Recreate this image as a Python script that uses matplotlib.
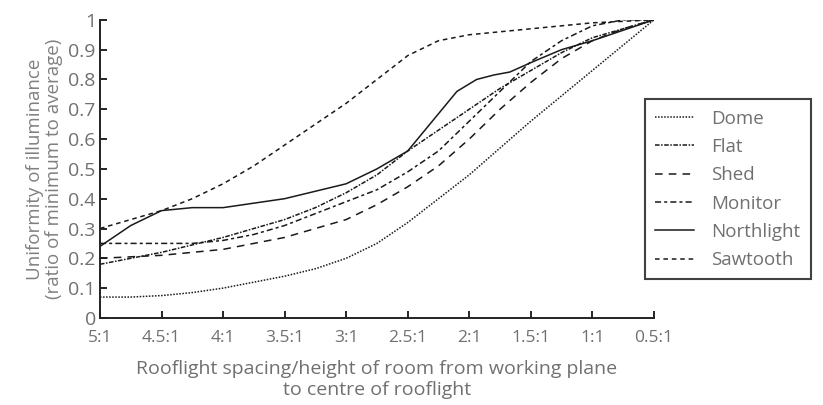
# Uniformity of illuminance vs rooflight spacing ratio
import matplotlib.pyplot as plt

plt.rcParams['font.family'] = ['Open Sans', 'DejaVu Sans']

ticks = [5, 4.5, 4, 3.5, 3, 2.5, 2, 1.5, 1, 0.5]
tick_labels = ['5:1', '4.5:1', '4:1', '3.5:1', '3:1', '2.5:1', '2:1', '1.5:1', '1:1', '0.5:1']

# values, every quarter step
ratio = [5, 4.75, 4.5, 4.25, 4, 3.75, 3.5, 3.25, 3, 2.75, 2.5, 2.25, 2, 1.75, 1.5, 1.25, 1, 0.75, 0.5]
dome = [0.07, 0.07, 0.075, 0.085, 0.10, 0.12, 0.14, 0.165, 0.20, 0.25, 0.32, 0.40, 0.48, 0.57,
        0.66, 0.745, 0.83, 0.915, 1.0]
flat = [0.18, 0.20, 0.22, 0.245, 0.27, 0.30, 0.33, 0.37, 0.42, 0.48, 0.56, 0.63, 0.70, 0.77,
        0.83, 0.89, 0.94, 0.97, 1.0]
shed = [0.20, 0.205, 0.21, 0.22, 0.23, 0.25, 0.27, 0.30, 0.33, 0.38, 0.44, 0.51, 0.60, 0.70,
        0.79, 0.87, 0.93, 0.97, 1.0]
monitor = [0.25, 0.25, 0.25, 0.25, 0.26, 0.28, 0.31, 0.35, 0.39, 0.43, 0.49, 0.56, 0.66, 0.76,
           0.86, 0.93, 0.98, 1.0, 1.0]
northlight_x = [5, 4.75, 4.5, 4.25, 4, 3.5, 3, 2.75, 2.5, 2.3, 2.1, 1.94, 1.8, 1.67, 1.48, 1.25,
                1, 0.75, 0.5]
northlight = [0.24, 0.31, 0.36, 0.37, 0.37, 0.40, 0.45, 0.50, 0.56, 0.66, 0.76, 0.80, 0.815, 0.825,
              0.86, 0.90, 0.93, 0.965, 1.0]
sawtooth = [0.30, 0.33, 0.36, 0.40, 0.45, 0.51, 0.58, 0.65, 0.72, 0.80, 0.88, 0.93, 0.95, 0.96,
            0.97, 0.98, 0.99, 0.995, 1.0]

fig = plt.figure(figsize=(8.23, 4.05), dpi=100)
ax = fig.add_axes([0.1215, 0.215, 0.673, 0.736])

lc = '#1a1a1a'
ax.plot(ratio, dome, color=lc, lw=1.1, ls=(0, (1, 1)), label='Dome')
ax.plot(ratio, flat, color=lc, lw=1.1, ls=(0, (3, 1, 1, 1)), label='Flat')
ax.plot(ratio, shed, color=lc, lw=1.1, ls=(0, (5, 4)), label='Shed')
ax.plot(ratio, monitor, color=lc, lw=1.1, ls=(0, (4, 2, 2, 2)), label='Monitor')
ax.plot(northlight_x, northlight, color=lc, lw=1.1, ls='-', label='Northlight')
ax.plot(ratio, sawtooth, color=lc, lw=1.1, ls=(0, (3, 2.5)), label='Sawtooth')

ax.set_xlim(5, 0.5)
ax.set_ylim(0, 1)
ax.set_xticks(ticks)
ax.set_xticklabels(tick_labels)
ax.set_yticks([0, 0.1, 0.2, 0.3, 0.4, 0.5, 0.6, 0.7, 0.8, 0.9, 1])
ax.set_yticklabels(['0', '0.1', '0.2', '0.3', '0.4', '0.5', '0.6', '0.7', '0.8', '0.9', '1'])
ax.spines['top'].set_visible(False)
ax.spines['right'].set_visible(False)
for s in ['left', 'bottom']:
    ax.spines[s].set_linewidth(1.4)
    ax.spines[s].set_color('#222222')
ax.tick_params(direction='in', length=5, width=1.2, labelcolor='#707070')
ax.tick_params(axis='x', labelsize=12.5, pad=9)
ax.tick_params(axis='y', labelsize=14, pad=3)

ax.set_ylabel('Uniformity of illuminance\n(ratio of minimum to average)', color='#808080',
              fontsize=13.5, linespacing=1.05, labelpad=4)
ax.set_xlabel('Rooflight spacing/height of room from working plane\nto centre of rooflight',
              color='#707070', fontsize=14, linespacing=1.2, labelpad=10)

leg = ax.legend(loc='upper left', bbox_to_anchor=(0.772, 0.778), bbox_transform=fig.transFigure,
                frameon=True, fancybox=False, fontsize=13.5, labelspacing=0.55,
                handlelength=2.1, borderpad=0.55, handletextpad=0.9)
leg.get_frame().set_edgecolor('#111111')
leg.get_frame().set_linewidth(1.5)
for t in leg.get_texts():
    t.set_color('#707070')

fig.savefig('out.png', dpi=100)
